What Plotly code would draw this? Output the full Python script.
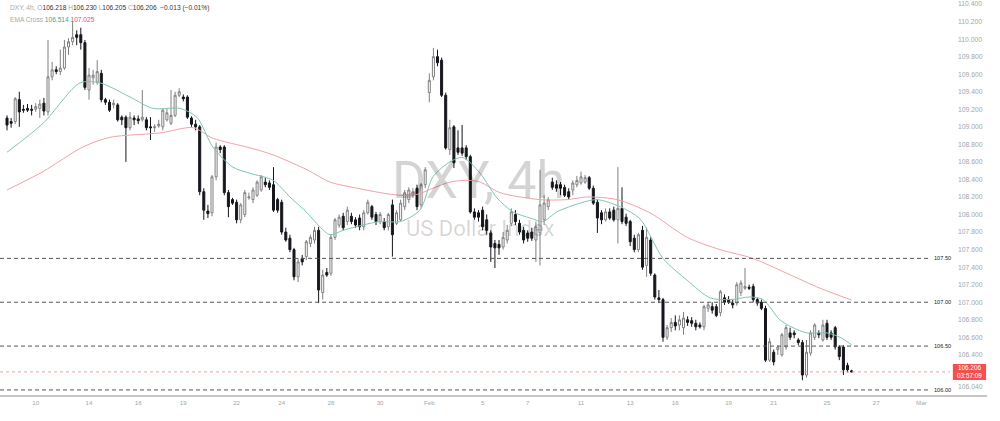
import plotly.graph_objects as go

# ---------------- data (DXY, 4h candles) ----------------
opens = [109.10,109.06,109.06,109.31,109.20,109.21,109.20,109.20,109.21,109.27,
         109.17,109.57,109.65,109.63,109.67,109.91,109.97,110.05,110.05,109.96,
         109.42,109.56,109.51,109.61,109.31,109.28,109.25,109.25,109.11,109.11,
         108.99,109.10,109.09,109.08,109.08,109.00,108.99,109.01,109.00,109.08,
         109.04,109.13,109.36,109.34,109.34,109.10,109.03,109.00,108.26,108.04,
         108.02,108.43,108.77,108.77,108.25,108.17,108.14,107.94,108.00,108.19,
         108.17,108.22,108.28,108.37,108.36,108.34,108.17,108.14,107.80,107.73,
         107.60,107.29,107.50,107.52,107.67,107.71,107.82,107.11,107.34,107.33,
         107.74,107.88,107.98,107.92,107.98,107.94,107.96,107.86,108.02,108.09,
         108.00,107.92,107.92,107.86,108.11,107.90,107.94,108.09,108.17,108.22,
         108.30,108.11,108.34,109.39,109.57,109.80,109.76,109.36,108.74,109.00,
         108.76,108.76,108.76,108.66,108.03,108.02,108.05,107.94,107.79,107.67,
         107.66,107.63,107.71,107.90,108.00,107.90,107.82,107.79,107.80,107.71,
         107.79,107.94,108.09,108.37,108.34,108.34,108.31,108.26,108.28,108.34,
         108.36,108.37,108.42,108.30,108.14,108.02,107.94,108.03,108.05,107.94,
         108.07,107.97,107.92,107.73,107.60,107.82,107.42,107.71,107.31,107.05,
         107.03,106.60,106.71,106.77,106.74,106.71,106.80,106.79,106.76,106.74,
         106.72,106.93,106.95,106.95,106.88,107.05,107.03,106.99,106.99,107.11,
         107.16,107.17,107.18,107.03,107.00,106.93,106.34,106.43,106.46,106.40,
         106.49,106.65,106.65,106.57,106.54,106.17,106.42,106.60,106.65,106.57,
         106.76,106.65,106.71,106.49,106.49,106.28,106.218]
highs = [109.13,109.10,109.34,109.40,109.25,109.26,109.25,109.27,109.31,109.33,
         109.99,109.74,109.69,109.88,109.99,110.01,110.20,110.10,110.13,109.99,
         109.67,109.65,109.76,109.65,109.33,109.31,109.31,109.27,109.13,109.13,
         109.17,109.13,109.13,109.42,109.11,109.11,109.03,109.08,109.21,109.21,
         109.42,109.40,109.44,109.37,109.36,109.12,109.08,109.02,108.30,108.11,
         108.45,108.82,108.79,108.79,108.28,108.19,108.17,108.13,108.28,108.25,
         108.31,108.39,108.45,108.42,108.39,108.54,108.19,108.17,107.85,107.77,
         107.62,107.50,107.54,107.71,107.77,107.86,107.86,107.37,107.39,107.77,
         107.96,108.00,108.02,108.09,108.02,107.97,108.00,108.05,108.17,108.11,
         108.03,108.03,107.96,108.02,108.17,108.05,108.17,108.28,108.31,108.30,
         108.34,108.36,108.54,109.61,109.90,109.88,109.79,109.39,109.08,109.02,
         108.96,109.02,108.79,108.68,108.07,108.05,108.09,108.00,107.82,107.71,
         107.71,107.80,107.88,108.07,108.05,107.94,107.86,107.82,107.85,107.92,
         108.51,108.22,108.20,108.42,108.39,108.37,108.34,108.30,108.39,108.44,
         108.49,108.45,108.44,108.33,108.17,108.05,108.07,108.07,108.09,108.54,
         108.31,108.01,107.94,107.77,107.79,107.87,107.85,107.74,107.33,107.14,
         107.05,106.74,106.82,106.85,106.85,106.89,106.84,106.83,106.80,106.77,
         106.97,107.00,107.00,106.98,107.14,107.09,107.07,107.03,107.23,107.25,
         107.39,107.20,107.21,107.05,107.03,106.96,106.59,106.46,106.51,106.65,
         106.74,106.71,106.68,106.59,106.57,106.57,106.68,106.76,106.68,106.80,
         106.80,106.68,106.73,106.51,106.51,106.31,106.230]
lows = [108.96,108.99,109.03,109.00,109.16,109.17,109.13,109.17,109.10,109.13,
        109.13,109.53,109.60,109.59,109.65,109.82,109.93,109.93,109.88,109.42,
        109.31,109.48,109.48,109.28,109.25,109.17,109.21,109.06,109.02,108.60,
        108.96,109.02,109.03,109.06,108.96,108.85,108.94,108.99,108.96,109.06,
        109.02,109.11,109.34,109.29,109.09,109.00,108.96,108.22,107.94,107.96,
        107.98,108.39,108.70,108.22,107.97,108.11,107.90,107.90,107.97,108.17,
        108.13,108.20,108.26,108.31,108.28,108.03,108.02,107.77,107.69,107.57,
        107.25,107.23,107.42,107.48,107.63,107.67,106.99,107.03,107.29,107.30,
        107.71,107.85,107.82,107.88,107.89,107.85,107.82,107.82,108.00,107.94,
        107.88,107.89,107.82,107.82,107.52,107.88,107.92,108.05,108.13,108.19,
        108.05,108.07,108.30,109.28,109.53,109.69,109.34,108.74,108.68,108.53,
        108.68,108.67,108.62,108.01,107.94,107.92,107.82,107.77,107.46,107.39,
        107.54,107.60,107.67,107.87,107.88,107.77,107.67,107.69,107.70,107.46,
        107.42,107.88,108.05,108.28,108.26,108.22,108.20,108.17,108.22,108.31,
        108.34,108.35,108.28,108.11,107.79,107.89,107.92,107.94,107.92,107.67,
        107.89,107.87,107.64,107.57,107.57,107.37,107.29,107.30,107.03,106.99,
        106.55,106.57,106.66,106.68,106.68,106.63,106.73,106.72,106.68,106.70,
        106.68,106.89,106.87,106.83,106.84,106.97,106.98,106.93,106.96,107.07,
        107.14,107.14,107.00,106.96,106.91,106.32,106.32,106.28,106.40,106.38,
        106.46,106.57,106.59,106.51,106.11,106.14,106.39,106.57,106.59,106.55,
        106.57,106.57,106.46,106.34,106.17,106.20,106.205]
closes = [109.02,109.04,109.32,109.17,109.19,109.19,109.19,109.23,109.26,109.18,
          109.57,109.65,109.63,109.67,109.91,109.97,110.02,110.02,109.96,109.45,
          109.59,109.59,109.63,109.31,109.28,109.19,109.27,109.08,109.08,108.99,
          109.11,109.08,109.07,109.11,108.99,108.99,109.00,109.03,109.19,109.16,
          109.13,109.36,109.40,109.32,109.11,109.03,109.00,108.26,108.05,108.01,
          108.43,108.77,108.74,108.25,108.09,108.13,107.94,108.11,108.25,108.20,
          108.28,108.37,108.43,108.34,108.31,108.05,108.05,107.80,107.71,107.60,
          107.29,107.46,107.46,107.69,107.74,107.82,107.14,107.31,107.31,107.74,
          107.94,107.97,107.85,108.05,107.92,107.88,107.86,108.02,108.14,107.97,
          107.92,108.00,107.85,108.00,107.77,108.02,108.13,108.25,108.28,108.26,
          108.09,108.34,108.51,109.53,109.80,109.73,109.36,108.76,108.99,108.59,
          108.71,108.70,108.66,108.03,107.97,107.97,107.86,107.82,107.63,107.62,
          107.62,107.74,107.82,108.03,107.92,107.80,107.71,107.73,107.73,107.86,
          108.11,108.13,108.17,108.31,108.30,108.30,108.22,108.20,108.36,108.39,
          108.43,108.42,108.30,108.13,107.96,107.94,108.03,107.96,107.94,108.07,
          107.92,107.90,107.69,107.60,107.77,107.40,107.74,107.33,107.06,107.03,
          106.60,106.71,106.77,106.73,106.80,106.82,106.77,106.76,106.72,106.72,
          106.95,106.97,106.91,106.85,107.12,107.00,107.00,106.97,107.20,107.22,
          107.18,107.16,107.03,106.99,106.93,106.34,106.55,106.32,106.49,106.63,
          106.71,106.60,106.63,106.54,106.17,106.43,106.65,106.74,106.63,106.74,
          106.60,106.60,106.49,106.38,106.23,106.23,106.206]

# EMA Cross indicator lines (bar index, value)
ema_fast_idx = [0, 8.8, 17.8, 22.7, 30, 35.6, 42.2, 46.3, 50.2, 55.1, 59.3, 64.9, 69, 73.2,
                76.3, 78.8, 82, 86.8, 91, 95.9, 100.7, 103.9, 108, 111.2, 115.4, 119.5,
                123.4, 127.6, 130.7, 134.1, 139.8, 143.9, 149.5, 154.4, 160, 165.9, 171.5,
                176.3, 181.2, 184.4, 188.5, 191.7, 195.1, 200, 203.2, 206]
ema_fast = [108.71, 109.04, 109.50, 109.50, 109.34, 109.21, 109.21, 109.11, 108.77, 108.54,
            108.47, 108.39, 108.20, 108.02, 107.86, 107.77, 107.82, 107.88, 107.92, 107.92,
            108.05, 108.43, 108.60, 108.65, 108.47, 108.19, 108.03, 107.96, 107.92, 108.03,
            108.13, 108.17, 108.09, 107.95, 107.50, 107.25, 107.05, 107.03, 107.06, 107.03,
            106.80, 106.71, 106.65, 106.65, 106.60, 106.514]
ema_slow_idx = [0, 8.8, 18.5, 25.1, 37.3, 45.4, 50.2, 59.3, 64.9, 73.2, 78.8, 85.4, 91, 95.9,
                100, 103.9, 108, 112.2, 115.4, 120.2, 130, 136.6, 141.5, 148.8, 156.8, 165.9,
                173.9, 181.9, 190.2, 198.3, 206]
ema_slow = [108.28, 108.49, 108.77, 108.88, 108.93, 108.99, 108.87, 108.76, 108.68, 108.51,
            108.37, 108.30, 108.25, 108.22, 108.23, 108.30, 108.37, 108.39, 108.37, 108.25,
            108.17, 108.17, 108.20, 108.17, 108.02, 107.74, 107.60, 107.50, 107.33, 107.16,
            107.025]

x_tick_idx = [7, 20, 32, 43, 56, 67, 79, 91, 103, 116, 127, 140, 152, 163, 176, 187, 200, 212, 223]
x_tick_text = ["10", "14", "16", "19", "22", "24", "28", "30", "Feb", "5", "7", "11", "13",
               "16", "19", "21", "25", "27", "Mar"]
y_tick_vals = [106.04, 106.4, 106.6, 106.8, 107.0, 107.2, 107.4, 107.6, 107.8, 108.0, 108.2,
               108.4, 108.6, 108.8, 109.0, 109.2, 109.4, 109.6, 109.8, 110.0, 110.2, 110.4]
level_lines = [107.50, 107.00, 106.50, 106.00]
last_price = 106.206
countdown = "03:57:09"

# ---------------- figure ----------------
FONT = "Liberation Sans, Arial, sans-serif"
bars = list(range(len(closes)))

fig = go.Figure()
fig.add_trace(go.Candlestick(
    x=bars, open=opens, high=highs, low=lows, close=closes,
    increasing=dict(fillcolor="#ffffff", line=dict(color="#808080", width=1)),
    decreasing=dict(fillcolor="#15171c", line=dict(color="#15171c", width=1)),
    whiskerwidth=0, showlegend=False, hoverinfo="skip"))
fig.add_trace(go.Scatter(x=ema_slow_idx, y=ema_slow, mode="lines",
                         line=dict(color="#f0a3a8", width=1, shape="spline", smoothing=0.8),
                         showlegend=False, hoverinfo="skip"))
fig.add_trace(go.Scatter(x=ema_fast_idx, y=ema_fast, mode="lines",
                         line=dict(color="#7fc5b3", width=1, shape="spline", smoothing=0.8),
                         showlegend=False, hoverinfo="skip"))

shapes = []
annots = []
for lv in level_lines:
    shapes.append(dict(type="line", xref="paper", yref="y", x0=0, x1=0.979, y0=lv, y1=lv,
                       line=dict(color="#555555", width=1, dash="4px,3px")))
    annots.append(dict(xref="paper", yref="y", x=0.981, y=lv, xanchor="left", yanchor="middle",
                       text=f"{lv:.2f}", showarrow=False,
                       font=dict(family=FONT, size=5.6, color="#222222")))

# current price line and label
shapes.append(dict(type="line", xref="paper", yref="y", x0=0, x1=1.0, y0=last_price, y1=last_price,
                   line=dict(color="#f4a0a0", width=1, dash="dot")))
shapes.append(dict(type="rect", xref="paper", yref="y", x0=1.003, x1=1.038,
                   ysizemode="pixel", yanchor=last_price, y0=-8, y1=8,
                   fillcolor="#f05252", line=dict(width=0)))
annots.append(dict(xref="paper", yref="y", x=1.0205, y=last_price, xanchor="center",
                   yanchor="middle", showarrow=False,
                   text=f"{last_price:.3f}<br>{countdown}",
                   font=dict(family=FONT, size=6.4, color="#ffffff")))
# bottom axis line (spans price scale too)
shapes.append(dict(type="line", xref="paper", yref="paper", x0=0, x1=1.039, y0=0, y1=0,
                   line=dict(color="#8c8c8c", width=1)))

# watermark
annots.append(dict(xref="paper", yref="paper", x=478 / 950, y=1 - 180 / 396, xanchor="center",
                   yanchor="middle", showarrow=False, text="DXY, 4h",
                   font=dict(family="Roboto, sans-serif", size=52, color="rgba(0,0,0,0.17)")))
annots.append(dict(xref="paper", yref="paper", x=480 / 950, y=1 - 228 / 396, xanchor="center",
                   yanchor="middle", showarrow=False, text="US Dollar Index",
                   font=dict(family="Roboto, sans-serif", size=22, color="rgba(0,0,0,0.17)")))

# header legend
g = "#a8a8a8"
d = "#333333"
line1 = (f"<span style='color:{g}'>DXY, 4h, O</span><span style='color:{d}'>{opens[-1]:.3f}</span>"
         f"<span style='color:{g}'> H</span><span style='color:{d}'>{highs[-1]:.3f}</span>"
         f"<span style='color:{g}'> L</span><span style='color:{d}'>{lows[-1]:.3f}</span>"
         f"<span style='color:{g}'> C</span><span style='color:{d}'>{closes[-1]:.3f}"
         f"  −0.013 (−0.01%)</span>")
line2 = (f"<span style='color:{g}'>EMA Cross </span>"
         f"<span style='color:#3fa58f'>{ema_fast[-1]:.3f}</span> "
         f"<span style='color:#e5535e'>{ema_slow[-1]:.3f}</span>")
annots.append(dict(xref="paper", yref="paper", x=8 / 950, y=1 - 8 / 396, xanchor="left",
                   yanchor="middle", showarrow=False, text=line1,
                   font=dict(family=FONT, size=6.6, color=d)))
annots.append(dict(xref="paper", yref="paper", x=8 / 950, y=1 - 19 / 396, xanchor="left",
                   yanchor="middle", showarrow=False, text=line2,
                   font=dict(family=FONT, size=6.6, color=d)))

fig.update_layout(
    width=1000, height=421,
    margin=dict(l=0, r=50, t=0, b=25),
    paper_bgcolor="#ffffff", plot_bgcolor="#ffffff",
    shapes=shapes, annotations=annots,
    xaxis=dict(range=[-1.71, 230.0], rangeslider=dict(visible=False), showgrid=False,
               zeroline=False, showline=False, tickmode="array", tickvals=x_tick_idx,
               ticktext=x_tick_text, ticks="", ticklabelstandoff=2,
               tickfont=dict(family=FONT, size=6.2, color="#a6a6a6")),
    yaxis=dict(range=[105.931, 110.446], side="right", showgrid=False, zeroline=False,
               showline=False, tickmode="array", tickvals=y_tick_vals,
               ticktext=[f"{v:.3f}" for v in y_tick_vals], ticks="",
               ticklabelstandoff=7,
               tickfont=dict(family=FONT, size=6.8, color="#a6a6a6")),
)

fig.write_html("out.html", config={"displayModeBar": False},
               post_script="document.body.style.margin='0px';")
